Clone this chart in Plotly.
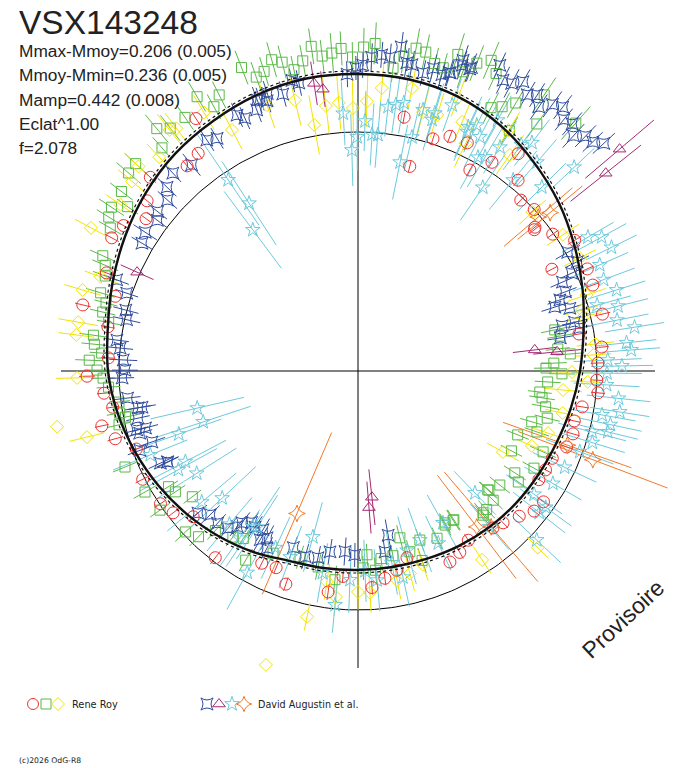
import numpy as np
import plotly.graph_objects as go

# ---------------- DATA (phase angle in degrees, clockwise from top; radius in plot units) ----
fit_t = [0,10,20,30,40,50,60,70,80,90,100,110,120,130,140,150,160,170,180,190,200,210,220,230,
         240,250,260,270,280,290,300,310,320,330,340,350]
fit_r = [297,296,292,284,273,262,250,239,229,222,216,211,208,206,204,202,200,199,199,200,202,209,
         216,223,230,237,244,250,254,261,269,277,284,289,294,297]
ref_circle_r = 239
axis_r = 297

# Rene Roy - green squares
g_t = [351.8,353.5,355.3,357,359,1,3,6.6,8.3,10.2,12,14,15.7,17.5,19.3,21.1,340.9,342.6,344.5,346.2,
       348,349.9,339,333.3,331.4,329.6,325.7,322.3,320.3,318.7,313,310.8,307.2,305.5,303.6,301.7,300,294.3,
       292.7,290.6,286.9,285.1,283,281,277.7,275.8,274,272.3,270.2,268.4,266.3,262.6,260,258.8,257.3,247.6,
       240.4,234.9,238.6,236.5,232.8,227,223.9,221.8,217,214.4,210.7,205,
       197.3,191.5,186.3,177.2,178.5,175,173,169.3,165.9,164,159.9,161.3,154.7,150.2,147.5,138.6,132.5,
       93.3,96.6,98.3,100.8,104,106.3,108.8,111.8,117.5,113.6,123,118.9,124.7,128.8,132.3,133.7,137.1,139,
       147.2,150.5,78.2,80.2,83.7,85.4,87.7,89.1,90.8,
       23.2,24.9,34,30.5,28.6,26.8,35.9,41.3,32.2]
g_r = [328,317,319,323,314,324,328,305,318,328,326,317,315,332,317,330,311,314,323,318,308,315,325,309,
       301,318,307,307,315,297,304,303,297,283,296,293,286,280,
       274,270,269,261,262,254,267,265,257,269,261,255,250,241,242,237,245,252,
       245,242,222,219,208,236,230,214,208,203,220,201,
       195,200,210,184,197,200,189,188,172,188,180,200,185,175,177,189,176,
       190,183,186,191,195,181,189,172,173,202,187,201,195,182,177,187,189,191,177,177,201,205,201,213,196,188,204,
       338,328,333,311,301,295,305,330,284]
g_e = [18,16,20,17,15,19,21,14,17,20,18,16,15,22,17,19,16,15,18,17,14,16,18,15,14,17,15,16,18,14,15,16,14,13,15,14,13,14,
       14,13,15,12,13,12,14,13,12,14,13,12,12,11,13,12,12,13,
       13,12,11,12,11,14,13,12,11,12,13,12,
       12,13,14,11,12,13,12,11,13,12,12,13,12,11,12,13,12,
       13,12,13,14,13,12,13,12,12,14,13,13,12,13,12,13,12,13,12,12,14,13,12,14,13,12,13,
       20,18,21,17,16,17,18,22,16]

# Rene Roy - red circles
r_t = [10.3,17.9,21.4,25.6,14.2,29.1,32.7,36.4,40,43.6,47.5,50.9,51.3,54.9,58.9,62.3,66,69.9,76.9,80.5,
       84.4,88.1,92.2,95.2,99.1,103,106.3,110,114.2,117.8,121,125.2,128.5,132,136.3,139.3,146.9,150.7,154.3,165.3,
       169,172.6,176.3,184.2,187.7,198.7,202.6,206.6,217.4,228.5,232.5,236.1,243.3,250.6,254.4,257.9,261.6,265,268.9,273,
       280,283.5,287.1,291.3,298.4,301.8,305.7,308.9,313,320.2,323.7,327.3]
r_r = [258,244,252,253,211,230,248,270,249,236,239,228,226,238,253,219,251,250,251,224,
       245,240,239,241,227,222,224,222,213,212,211,227,225,217,210,207,202,208,212,193,
       203,209,217,206,223,225,213,215,235,220,233,238,241,235,252,262,248,255,271,250,
       254,283,254,270,280,276,261,271,284,267,270,300]
r_e = [7,6,7,8,6,7,7,8,7,6,7,6,7,7,8,6,7,7,8,6,7,7,6,7,7,6,7,7,6,7,6,7,7,6,7,6,7,7,6,7,
       6,7,7,6,8,7,6,7,8,6,7,7,8,7,8,7,6,7,8,7,7,8,6,7,8,7,6,7,8,7,7,8]

# Rene Roy - yellow diamonds
y_t = [317.1,322,332.4,298.2,323.2,329.2,305,310,313,
       346.9,341.1,349.9,353.1,355.9,358.9,1.9,4.8,10.8,14.1,17.2,22.7,20.1,25.3,32,35.1,47.7,
       56.4,63,71.6,74.8,76.5,83.5,86.1,90.3,92.7,95.3,101.6,108.1,113.3,119.2,134.5,146.7,
       161.5,165.6,169.4,176.9,180,185.6,188.4,191.7,197.4,
       286.4,279.9,277.3,268.6,290.1,259.5,256.3]
y_r = [292,306,272,303,303,301,290,295,300,
       278,281,250,267,269,263,270,284,288,267,268,270,291,252,284,264,236,
       246,249,241,232,232,239,236,214,230,206,209,200,189,166,252,226,
       204,209,213,222,221,227,213,251,308,
       287,284,284,281,274,306,279]
y_e = [18,20,22,18,19,20,17,18,19,
       26,24,30,28,27,29,26,24,22,25,23,22,20,26,21,24,18,
       19,18,20,17,18,19,18,20,17,19,18,17,16,18,15,16,
       17,18,19,20,18,19,18,14,0,
       19,20,18,21,17,0,18]

# David Augustin et al. - blue
b_t = [7.6,5.8,4.3,2.5,0.9,359.6,357.9,10,9,12.3,14,15.8,17.2,18.8,20.3,348.4,347.2,344.8,340.2,338.8,341.4,
       18.7,20.5,24.9,26.5,28.1,29.7,31.5,33,34.4,36.1,37.8,39.3,40.9,42.5,44.1,45.7,47.2,17,
       60.5,63.5,65.4,66.5,69.1,70.6,72,73.5,77.3,77.5,80.7,79,
       290.7,288.6,284.7,282.5,277.3,275.5,272.7,270.2,268.3,263.3,260.5,257.9,255,255.1,251,250,244.4,
       334.7,335.9,339.6,341.9,328.8,326.8,321.1,316.9,313.9,308.5,306.9,303.1,300.6,311.9,
       245,244.5,260.5,254.1,228.4,225.8,222.7,219.6,217.4,215.1,210.9,210.1,207.2,
       217.8,213.4,208.6,200.1,195.9,192.1,188.8,184.1,181,169.6,171.5]
b_r = [327,315,317,314,306,303,297,311,312,305,312,308,312,323,322,294,298,287,289,280,285,
       328,324,337,325,326,333,324,329,320,330,334,325,327,319,327,328,335,312,
       241,245,235,223,222,214,207,221,222,209,205,226,
       258,244,240,237,243,239,235,233,236,232,219,225,220,229,218,232,211,
       283,277,289,292,272,276,265,271,265,256,251,254,251,256,
       218,211,223,227,214,206,207,204,191,185,185,195,199,
       197,187,190,188,193,191,183,181,184,167,183]
b_e = [15,14,13,14,13,12,13,14,15,13,14,13,14,15,14,13,12,13,12,13,12,
       16,15,14,15,16,14,15,14,15,16,15,14,15,16,15,14,15,14,
       14,13,12,13,12,13,14,12,13,12,13,14,
       13,12,13,14,12,13,14,13,12,13,14,12,13,12,14,13,12,
       13,12,14,13,12,13,14,12,13,12,13,14,12,13,
       13,12,14,13,12,13,12,14,13,12,13,14,12,
       12,13,14,12,13,12,13,14,12,16,13]

# David Augustin et al. - cyan stars
c_t = [356.7,1.6,359.8,358.4,3.4,4.8,11.4,6.5,8.1,9.7,13,14,16.4,16.6,19.5,24.3,27.5,34.2,29.3,
       25.8,24.5,29.1,32.4,30.7,39.1,37.3,40.6,45,35.8,46.7,
       325.8,327,323.3,
       59.8,61.2,66.3,69.6,72.6,74.6,76,78.9,84,85.6,87.5,88.9,90.5,93.2,98.9,100.2,102,103.7,104.6,133.4,
       139.8,64,81,96,107,110,115,120,126,125,128,
       136.2,150.8,159.9,164.7,167.7,174.8,185.6,182.2,195.2,212.9,215.3,155,170,178,190,200,205,220,
       257,251.8,250.6,242.3,237.6,241.2,230,226.9,214,208.8,248]
c_r = [258,250,234,221,237,237,213,266,269,272,240,269,262,269,282,268,264,222,245,
       273,263,287,265,249,246,287,275,260,279,297,
       231,200,176,
       266,278,264,262,271,248,268,264,270,274,250,264,249,249,265,248,258,257,242,246,
       204,282,280,262,245,236,228,225,232,215,230,
       169,174,180,186,211,210,235,209,172,186,205,190,195,200,205,198,195,200,
       165,163,190,195,191,205,204,186,188,230,224]
c_e = [32,30,34,36,31,33,38,30,29,31,35,30,32,31,28,33,34,40,36,
       30,32,28,31,35,38,29,30,34,31,28,
       55,50,48,
       30,28,31,33,30,35,31,32,30,29,34,31,35,33,30,34,32,31,35,33,
       30,28,30,32,34,36,35,33,32,34,33,
       30,32,34,35,30,31,28,33,36,38,35,30,32,31,30,33,34,35,
       48,50,45,46,47,44,45,46,48,42,40]

# David Augustin et al. - magenta triangles
m_t = [351.3,352.9,83.2,84.5,294.1,49.7,51.4,173.7,175.4]
m_r = [291,284,178,200,242,343,317,127,137]
m_e = [22,18,22,24,18,45,45,28,26]

# David Augustin et al. - orange
o_t = [49.5,50.5,110.7,109.5,142.7,139.5,203.2]
o_r = [237,249,251,222,196,205,155]
o_e = [45,42,80,68,65,72,88]

title_text = "VSX143248"
info_lines = ["Mmax-Mmoy=0.206 (0.005)", "Mmoy-Mmin=0.236 (0.005)", "Mamp=0.442 (0.008)",
              "Eclat^1.00", "f=2.078"]
legend_names = ["Rene Roy", "David Augustin et al."]

# ---------------- STYLE ----------------
W, H = 688, 768
CX, CY = 358, 371           # pixel position of the pole inside the figure
C_RED, C_GREEN, C_YEL = "#ec3434", "#5ab947", "#f2e400"
C_BLUE, C_MAG, C_CYAN, C_ORA = "#2f4c9e", "#a62872", "#6ccadc", "#f27a2a"
TXT = "#222222"


def px(x):
    return x / W


def py(y):
    return 1 - y / H


def xy(theta, r):
    t = np.radians(np.asarray(theta, dtype=float))
    r = np.asarray(r, dtype=float)
    return r * np.sin(t), r * np.cos(t)


def segs(theta, r, e):
    xs, ys = [], []
    for t, rr, ee in zip(theta, r, e):
        x0, y0 = xy(t, rr - ee)
        x1, y1 = xy(t, rr + ee)
        xs += [float(x0), float(x1), None]
        ys += [float(y0), float(y1), None]
    return xs, ys


fig = go.Figure()

# reference circle
ct = np.linspace(0, 360, 361)
cx_, cy_ = xy(ct, np.full_like(ct, ref_circle_r))
fig.add_trace(go.Scatter(x=cx_, y=cy_, mode="lines", line=dict(color="black", width=1),
                         hoverinfo="skip", showlegend=False))
# cross axes
for a in (0, 90):
    ax_, ay_ = xy([a, a + 180], [axis_r, axis_r])
    fig.add_trace(go.Scatter(x=ax_, y=ay_, mode="lines", line=dict(color="black", width=1),
                             hoverinfo="skip", showlegend=False))

series = [
    (g_t, g_r, g_e, C_GREEN, "square-open", 10),
    (y_t, y_r, y_e, C_YEL, "diamond-open", 10),
    (b_t, b_r, b_e, C_BLUE, "star-square-open", 11),
    (c_t, c_r, c_e, C_CYAN, "star-open", 11),
    (r_t, r_r, r_e, C_RED, "circle-open", 12),
    (m_t, m_r, m_e, C_MAG, "triangle-up-open", 11),
    (o_t, o_r, o_e, C_ORA, "star-diamond-open", 12),
]
for t, r, e, col, sym, sz in series:
    lx, ly = segs(t, r, e)
    fig.add_trace(go.Scatter(x=lx, y=ly, mode="lines", line=dict(color=col, width=1),
                             hoverinfo="skip", showlegend=False))
for t, r, e, col, sym, sz in series:
    mx, my = xy(t, r)
    fig.add_trace(go.Scatter(x=mx, y=my, mode="markers",
                             marker=dict(symbol=sym, size=sz, color=col, line=dict(width=1, color=col)),
                             showlegend=False))

# fitted curve (closed)
ft = list(fit_t) + [fit_t[0] + 360]
fr = list(fit_r) + [fit_r[0]]
fx, fy = xy(ft, fr)
fig.add_trace(go.Scatter(x=fx, y=fy, mode="lines", line=dict(color="#111111", width=2.4, shape="spline"),
                         hoverinfo="skip", showlegend=False))
fx2, fy2 = xy(ft, np.array(fr) + 3)
fig.add_trace(go.Scatter(x=fx2, y=fy2, mode="lines",
                         line=dict(color="#111111", width=1.2, shape="spline", dash="dot"),
                         hoverinfo="skip", showlegend=False))

# legend symbols (overlay axis in figure pixel units)
leg = [(33, C_RED, "circle-open", 11), (46, C_GREEN, "square-open", 10), (58, C_YEL, "diamond-open", 10),
       (207, C_BLUE, "star-square-open", 11), (219, C_MAG, "triangle-up-open", 11),
       (232, C_CYAN, "star-open", 11), (244, C_ORA, "star-diamond-open", 11)]
for lxp, col, sym, sz in leg:
    fig.add_trace(go.Scatter(x=[lxp], y=[704], xaxis="x2", yaxis="y2", mode="markers",
                             marker=dict(symbol=sym, size=sz, color=col, line=dict(width=1, color=col)),
                             hoverinfo="skip", showlegend=False))

ann = []
ann.append(dict(text=title_text, x=px(17), y=py(22), xref="paper", yref="paper", xanchor="left",
                yanchor="middle", showarrow=False,
                font=dict(family="Liberation Sans", size=33.5, color=TXT)))
for i, s in enumerate(info_lines):
    ann.append(dict(text=s, x=px(17), y=py(51 + 24.3 * i), xref="paper", yref="paper",
                    xanchor="left", yanchor="middle", showarrow=False,
                    font=dict(family="Liberation Sans", size=17.3, color=TXT)))
ann.append(dict(text=legend_names[0], x=px(70), y=py(704), xref="paper", yref="paper", xanchor="left",
                yanchor="middle", showarrow=False, font=dict(family="DejaVu Sans", size=9.8, color=TXT)))
ann.append(dict(text=legend_names[1], x=px(256), y=py(704), xref="paper", yref="paper", xanchor="left",
                yanchor="middle", showarrow=False, font=dict(family="DejaVu Sans", size=9.6, color=TXT)))
ann.append(dict(text="(c)2026 OdG-R8", x=px(17), y=py(760), xref="paper", yref="paper", xanchor="left",
                yanchor="middle", showarrow=False, font=dict(family="DejaVu Sans", size=7.7, color=TXT)))
ann.append(dict(text="Provisoire", x=px(623), y=py(619), xref="paper", yref="paper", xanchor="center",
                yanchor="middle", textangle=-43, showarrow=False,
                font=dict(family="Liberation Sans", size=23, color=TXT)))

fig.update_layout(
    width=W, height=H, margin=dict(l=0, r=0, t=0, b=0),
    paper_bgcolor="white", plot_bgcolor="white",
    xaxis=dict(range=[-CX, W - CX], visible=False, domain=[0, 1], fixedrange=True),
    yaxis=dict(range=[CY - H, CY], visible=False, domain=[0, 1], fixedrange=True),
    xaxis2=dict(range=[0, W], visible=False, overlaying="x", anchor="y2", domain=[0, 1]),
    yaxis2=dict(range=[H, 0], visible=False, overlaying="y", anchor="x2", domain=[0, 1]),
    annotations=ann, showlegend=False,
)
fig.write_html("out.html", config={"displayModeBar": False},
               post_script="document.body.style.margin='0px';")
